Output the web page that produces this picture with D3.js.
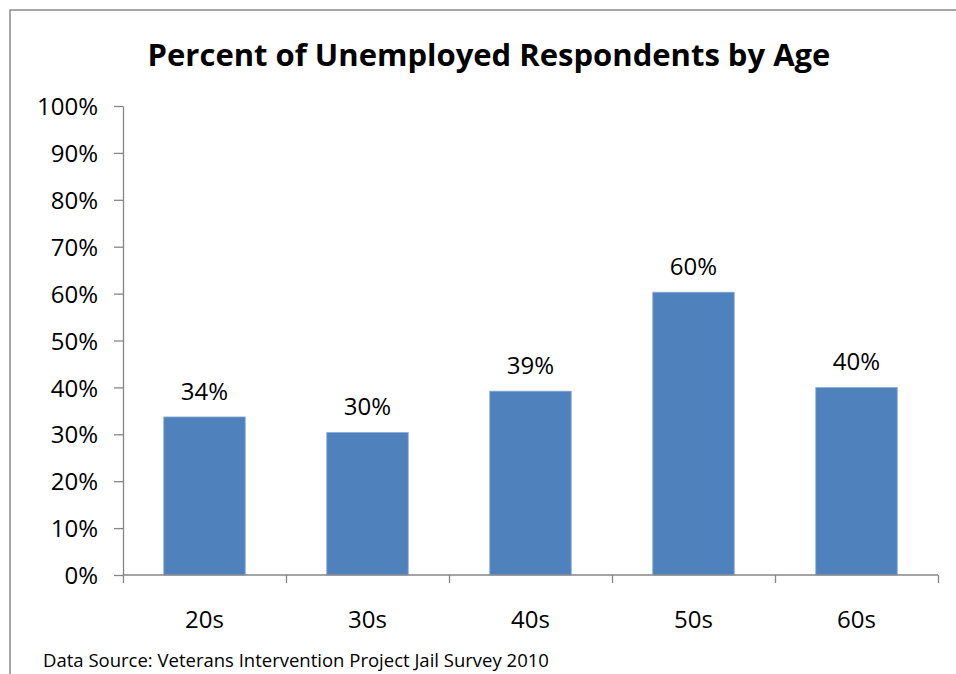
<!DOCTYPE html>
<html lang="en">
<head>
  <meta charset="UTF-8">
  <title>Percent of Unemployed Respondents by Age</title>
  <script src="https://d3js.org/d3.v7.min.js"></script>
  <style>
    body { margin: 0; background: #fff; }
    text { font-family: "Open Sans", "Noto Sans", sans-serif; fill: #000; }
    .axis path, .axis line { stroke: #868686; stroke-width: 1.3px; }
    .title { font-weight: bold; font-size: 31px; }
    .tick-label { font-size: 24px; }
    .bar-label { font-size: 24px; }
    .source { font-size: 18.5px; }
  </style>
</head>
<body>
<svg id="chart" width="956" height="674"></svg>
<script>
  // chart data
  const ageGroups = ["20s", "30s", "40s", "50s", "60s"];
  const unemployed = [0.337, 0.304, 0.392, 0.603, 0.40];
  const yTicks = [0, 0.1, 0.2, 0.3, 0.4, 0.5, 0.6, 0.7, 0.8, 0.9, 1.0];

  const svg = d3.select("#chart");
  const plot = { left: 123, right: 938, top: 106, bottom: 575 };

  // outer chart border (runs off the right and bottom edges)
  svg.append("rect")
    .attr("x", 10).attr("y", 10)
    .attr("width", 1000).attr("height", 1000)
    .attr("fill", "none")
    .attr("stroke", "#8c8c8c")
    .attr("stroke-width", 1.5);

  const x = d3.scaleBand()
    .domain(ageGroups)
    .range([plot.left, plot.right])
    .paddingInner(0.5)
    .paddingOuter(0.25);

  const xEdges = d3.scaleLinear()
    .domain([0, ageGroups.length])
    .range([plot.left, plot.right]);

  const y = d3.scaleLinear()
    .domain([0, 1])
    .range([plot.bottom, plot.top]);

  // y axis
  const yAxis = svg.append("g")
    .attr("class", "axis")
    .attr("transform", `translate(${plot.left},0)`)
    .call(d3.axisLeft(y).tickValues(yTicks).tickSize(9).tickSizeOuter(0).tickFormat(d3.format(".0%")));
  yAxis.selectAll("text")
    .attr("class", "tick-label")
    .attr("x", -25)
    .attr("dy", "0.36em");

  // bars
  svg.selectAll(".bar")
    .data(ageGroups)
    .enter().append("rect")
    .attr("class", "bar")
    .attr("x", d => x(d))
    .attr("y", (d, i) => y(unemployed[i]))
    .attr("width", x.bandwidth())
    .attr("height", (d, i) => y(0) - y(unemployed[i]))
    .attr("fill", "#4f81bd")
    .attr("stroke", "#8eaedb")
    .attr("stroke-width", 0.8);

  // x axis: ticks at category boundaries
  const xAxis = svg.append("g")
    .attr("class", "axis")
    .attr("transform", `translate(0,${plot.bottom})`)
    .call(d3.axisBottom(xEdges).ticks(ageGroups.length).tickSize(8).tickSizeOuter(0).tickFormat(""));
  xAxis.select(".domain").attr("d", `M${plot.left},0H${plot.right}`);

  svg.selectAll(".cat-label")
    .data(ageGroups)
    .enter().append("text")
    .attr("class", "tick-label")
    .attr("x", d => x(d) + x.bandwidth() / 2)
    .attr("y", 628)
    .attr("text-anchor", "middle")
    .text(d => d);

  // value labels above bars
  svg.selectAll(".bar-label")
    .data(ageGroups)
    .enter().append("text")
    .attr("class", "bar-label")
    .attr("x", d => x(d) + x.bandwidth() / 2)
    .attr("y", (d, i) => y(unemployed[i]) - 17)
    .attr("text-anchor", "middle")
    .text((d, i) => d3.format(".0%")(unemployed[i]));

  // title
  svg.append("text")
    .attr("class", "title")
    .attr("x", 489)
    .attr("y", 66)
    .attr("text-anchor", "middle")
    .text("Percent of Unemployed Respondents by Age");

  // source note
  svg.append("text")
    .attr("class", "source")
    .attr("x", 43)
    .attr("y", 667)
    .text("Data Source: Veterans Intervention Project Jail Survey 2010");
</script>
</body>
</html>
